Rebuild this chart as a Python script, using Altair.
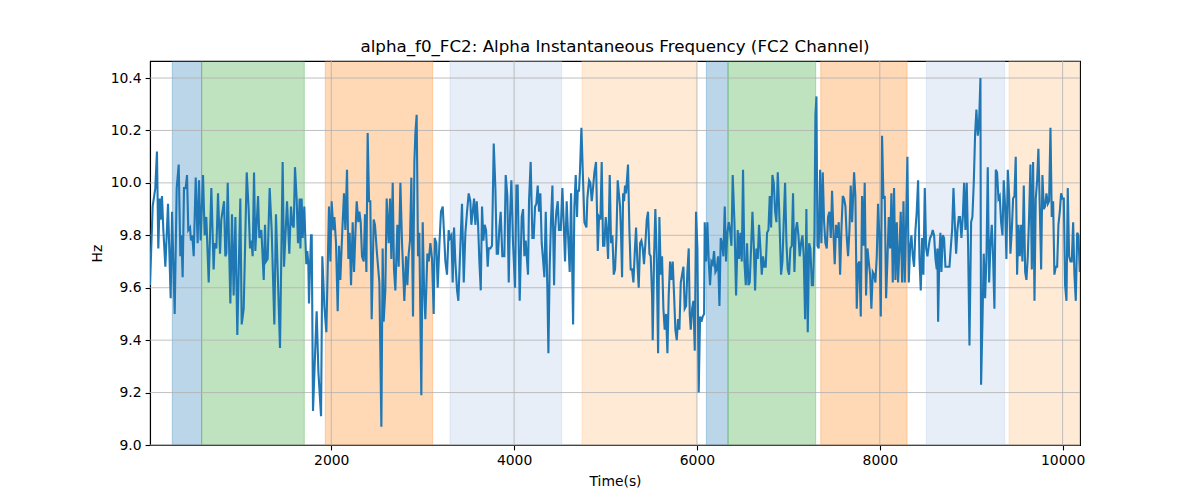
import altair as alt
import pandas as pd

TITLE = "alpha_f0_FC2: Alpha Instantaneous Frequency (FC2 Channel)"
X_MIN, X_MAX = 17, 10190
Y_MIN, Y_MAX = 9.0, 10.465

x_ticks = [2000, 4000, 6000, 8000, 10000]
y_ticks = [9.0, 9.2, 9.4, 9.6, 9.8, 10.0, 10.2, 10.4]

# shaded segments (axvspan-like)
band_start = [261, 582, 1934, 3299, 4743, 6103, 6340, 7354, 8509, 9414]
band_end = [582, 1705, 3109, 4520, 5993, 6340, 7299, 8298, 9367, 10190]
band_color = ["#1f77b4", "#2ca02c", "#ff7f0e", "#aec7e8", "#ffbb78",
              "#1f77b4", "#2ca02c", "#ff7f0e", "#aec7e8", "#ffbb78"]

# signal samples (time, Hz)
seg1 = [(17, 9.61), (46, 9.91), (75, 9.98), (93, 10.12), (108, 9.75), (123, 9.94), (134, 9.86),
        (148, 9.95), (163, 9.82), (185, 9.68), (214, 9.92), (243, 9.56), (258, 9.89), (287, 9.50),
        (309, 9.98), (331, 10.07), (349, 9.72), (360, 9.80), (374, 9.64), (389, 9.98), (407, 9.98),
        (422, 10.03), (436, 9.82), (455, 9.83), (465, 9.78), (480, 9.80), (495, 9.72), (517, 10.02),
        (538, 9.77), (553, 10.01), (571, 9.78), (597, 10.03), (615, 9.80), (633, 9.87), (659, 9.62),
        (688, 9.98), (713, 9.67), (724, 9.77), (743, 9.75), (761, 9.96), (783, 9.73), (797, 9.86),
        (827, 9.93), (841, 9.72), (852, 9.73), (867, 10.00), (896, 9.54), (914, 9.88), (932, 9.57),
        (951, 9.87), (972, 9.42), (1005, 9.94), (1020, 9.46), (1042, 9.52), (1075, 10.04),
        (1096, 9.90), (1111, 9.75), (1126, 9.78), (1140, 9.72), (1155, 10.04), (1169, 9.74),
        (1199, 9.95), (1213, 9.79), (1235, 9.82), (1261, 9.63)]
seg2 = [(1275, 9.84), (1286, 9.70), (1304, 9.71), (1326, 9.98), (1348, 9.82), (1377, 9.46),
        (1395, 9.88), (1439, 9.37), (1468, 10.08), (1483, 9.68), (1516, 9.93), (1541, 9.73),
        (1559, 9.91), (1574, 9.84), (1589, 9.83), (1603, 10.06), (1621, 9.94), (1636, 9.77),
        (1654, 9.94), (1662, 9.75), (1676, 9.94), (1687, 9.79), (1705, 9.91), (1716, 9.79),
        (1727, 9.69), (1738, 9.74), (1749, 9.69), (1756, 9.54), (1778, 9.80), (1786, 9.80),
        (1800, 9.13), (1822, 9.34), (1840, 9.51), (1859, 9.28), (1888, 9.11), (1902, 9.72),
        (1924, 9.53), (1946, 9.43), (1975, 9.91), (1990, 9.70), (2004, 9.93), (2023, 9.82),
        (2034, 9.87), (2052, 9.77), (2070, 9.51), (2085, 9.76), (2099, 9.63), (2121, 9.82),
        (2139, 9.96), (2154, 9.82), (2172, 10.05), (2187, 9.71), (2201, 9.81), (2216, 9.61),
        (2234, 9.85), (2249, 9.66), (2263, 9.80), (2278, 9.93), (2296, 9.85), (2307, 9.89),
        (2322, 9.85), (2336, 9.72), (2355, 9.70), (2369, 9.88), (2384, 9.66), (2398, 10.19),
        (2413, 9.93), (2427, 9.93), (2442, 9.48), (2464, 9.86), (2478, 9.84), (2500, 9.73),
        (2526, 9.62), (2548, 9.07), (2562, 9.75), (2573, 9.47)]
seg3 = [(2591, 9.59), (2606, 9.94), (2628, 9.77), (2643, 9.94), (2657, 9.71), (2672, 10.00),
        (2686, 9.67), (2701, 9.59), (2723, 9.84), (2737, 9.68), (2756, 10.00), (2774, 9.77),
        (2799, 9.55), (2818, 9.72), (2832, 9.61), (2847, 9.73), (2861, 9.78), (2876, 10.02),
        (2894, 9.49), (2909, 10.08), (2920, 10.19), (2934, 10.26), (2949, 9.72), (2963, 9.81),
        (2985, 9.19), (3000, 9.85), (3015, 9.59), (3029, 9.48), (3051, 9.73), (3066, 9.70),
        (3084, 9.77), (3102, 9.71), (3120, 9.50), (3131, 9.79), (3149, 9.77), (3164, 9.60),
        (3182, 9.76), (3200, 9.89), (3219, 9.91), (3233, 9.81), (3248, 9.70), (3266, 9.65),
        (3284, 9.82), (3299, 9.79), (3314, 9.80), (3328, 9.62), (3343, 9.83), (3357, 9.70),
        (3376, 9.59), (3390, 9.55), (3412, 9.76), (3430, 9.92), (3449, 9.62), (3467, 9.81),
        (3485, 9.89), (3503, 9.96), (3521, 9.93), (3532, 9.84), (3547, 9.89), (3562, 9.94),
        (3576, 9.84), (3591, 9.93), (3605, 9.85), (3620, 9.70), (3635, 9.59), (3649, 9.91),
        (3664, 9.78), (3678, 9.84), (3693, 9.82), (3711, 9.68), (3722, 9.75), (3740, 9.75),
        (3758, 9.76), (3777, 10.15), (3795, 9.98), (3810, 9.73), (3824, 9.73), (3839, 9.83),
        (3853, 9.89)]
seg4 = [(3871, 9.72), (3893, 9.72), (3908, 10.03), (3926, 9.95), (3941, 9.62), (3955, 9.87),
        (3970, 10.01), (3988, 9.77), (4010, 9.60), (4025, 9.99), (4039, 9.99), (4061, 9.55),
        (4083, 9.87), (4098, 9.90), (4112, 9.72), (4127, 9.78), (4138, 9.72), (4152, 9.65),
        (4163, 9.93), (4181, 10.08), (4200, 9.79), (4214, 9.79), (4229, 9.91), (4243, 9.92),
        (4258, 9.99), (4273, 9.89), (4287, 9.96), (4302, 9.77), (4316, 9.71), (4331, 9.64),
        (4346, 9.89), (4364, 9.59), (4375, 9.35), (4389, 9.68), (4404, 9.86), (4419, 9.99),
        (4437, 9.61), (4448, 9.82), (4462, 9.89), (4477, 9.93), (4491, 9.82), (4510, 9.82),
        (4528, 9.98), (4543, 9.84), (4557, 9.70), (4575, 9.93), (4594, 9.77), (4608, 9.66),
        (4623, 9.96), (4645, 9.46), (4659, 9.91), (4674, 10.03), (4688, 9.87), (4696, 9.97),
        (4710, 9.97), (4721, 10.05), (4736, 10.21), (4754, 10.01), (4769, 9.85), (4791, 9.83),
        (4801, 9.94), (4820, 10.01), (4834, 10.00), (4849, 9.93), (4863, 9.98), (4878, 10.04),
        (4896, 10.08), (4915, 9.74), (4929, 9.87), (4944, 9.86), (4958, 10.08), (4973, 9.76),
        (4987, 9.76), (5002, 9.87), (5013, 9.82), (5028, 9.71), (5046, 10.03), (5060, 9.77),
        (5075, 9.80), (5090, 9.65), (5104, 9.67), (5119, 9.79), (5133, 10.01)]
seg5 = [(5159, 9.91), (5170, 9.80), (5181, 9.64), (5192, 9.96), (5203, 9.93), (5213, 9.99),
        (5224, 9.96), (5246, 10.07), (5261, 9.82), (5275, 9.67), (5290, 9.67), (5305, 9.62),
        (5319, 9.73), (5334, 9.83), (5348, 9.70), (5363, 9.60), (5378, 9.77), (5392, 9.78),
        (5407, 9.75), (5421, 9.69), (5436, 9.77), (5451, 9.86), (5465, 9.89), (5480, 9.73),
        (5494, 9.72), (5509, 9.57), (5516, 9.40), (5531, 9.72), (5545, 9.90), (5560, 9.71),
        (5575, 9.35), (5589, 9.87), (5604, 9.65), (5618, 9.72), (5633, 9.52), (5647, 9.44),
        (5662, 9.50), (5677, 9.35), (5691, 9.57), (5706, 9.70), (5720, 9.63), (5735, 9.70),
        (5750, 9.57), (5764, 9.44), (5779, 9.40), (5793, 9.48), (5808, 9.44), (5823, 9.62),
        (5837, 9.65), (5852, 9.68), (5866, 9.52), (5881, 9.53), (5895, 9.66), (5910, 9.75),
        (5921, 9.50), (5932, 9.44), (5947, 9.52), (5961, 9.55), (5976, 9.36), (5990, 9.89),
        (6005, 9.75), (6019, 9.20), (6034, 9.49), (6049, 9.47), (6063, 9.49), (6078, 9.50),
        (6085, 9.85), (6100, 9.70), (6114, 9.85), (6129, 9.70), (6143, 9.61), (6158, 9.70),
        (6173, 9.69), (6187, 9.74), (6202, 9.66), (6216, 9.67), (6231, 9.72), (6246, 9.53),
        (6260, 9.79), (6275, 9.77), (6289, 9.72), (6304, 9.91), (6318, 9.70), (6333, 9.81),
        (6348, 9.85), (6362, 9.82), (6377, 9.76), (6391, 10.03)]
seg6 = [(6410, 9.85), (6428, 9.57), (6446, 9.82), (6461, 9.71), (6475, 9.81), (6490, 9.70),
        (6504, 10.05), (6519, 9.70), (6534, 9.61), (6548, 9.77), (6563, 9.61), (6577, 9.62),
        (6592, 9.75), (6607, 9.89), (6621, 9.77), (6636, 9.59), (6650, 9.75), (6665, 9.71),
        (6679, 9.84), (6694, 9.75), (6709, 9.65), (6723, 9.72), (6738, 9.68), (6752, 9.68),
        (6767, 9.81), (6782, 9.82), (6796, 9.95), (6811, 9.83), (6825, 10.03), (6840, 10.00),
        (6855, 9.89), (6869, 9.85), (6884, 10.04), (6898, 9.91), (6920, 9.65), (6935, 9.70),
        (6949, 9.85), (6964, 10.00), (6979, 9.77), (6993, 9.67), (7008, 9.65), (7022, 9.75),
        (7037, 9.76), (7051, 9.96), (7066, 9.66), (7081, 9.82), (7095, 9.85), (7110, 9.80),
        (7124, 9.72), (7139, 9.77), (7154, 9.80), (7168, 9.72), (7183, 9.48), (7197, 9.90),
        (7212, 9.43), (7227, 9.77), (7241, 9.75), (7256, 9.61), (7270, 9.61), (7285, 9.80),
        (7296, 10.26), (7307, 10.33), (7318, 9.76), (7332, 9.75), (7347, 10.05), (7361, 9.77),
        (7376, 10.04), (7391, 9.85), (7405, 9.77), (7420, 9.75), (7434, 9.87), (7449, 9.89),
        (7464, 9.79), (7478, 9.97), (7493, 9.81), (7507, 9.69), (7522, 9.84), (7537, 9.79),
        (7551, 9.85), (7566, 9.65), (7580, 9.82), (7595, 9.95), (7609, 9.94), (7624, 9.91),
        (7639, 9.79), (7653, 9.72), (7668, 9.82), (7682, 9.99), (7697, 9.85)]
seg7 = [(7719, 10.04), (7733, 9.95), (7748, 9.52), (7763, 9.69), (7777, 9.70), (7792, 9.49),
        (7806, 9.95), (7821, 9.76), (7835, 10.00), (7850, 9.57), (7865, 9.75), (7879, 9.70),
        (7894, 9.65), (7908, 9.52), (7923, 9.66), (7938, 9.65), (7952, 9.62), (7967, 9.72),
        (7981, 9.92), (7996, 9.79), (8011, 9.49), (8025, 10.18), (8040, 9.94), (8054, 9.95),
        (8069, 9.56), (8083, 9.70), (8098, 9.87), (8113, 9.75), (8127, 9.96), (8142, 9.62),
        (8156, 9.98), (8171, 9.63), (8186, 9.85), (8200, 9.62), (8215, 9.75), (8229, 9.89),
        (8244, 9.62), (8259, 9.93), (8273, 9.62), (8288, 9.85), (8302, 10.10), (8317, 9.62),
        (8331, 9.75), (8346, 9.80), (8361, 9.72), (8375, 9.68), (8390, 9.82), (8404, 9.89),
        (8419, 10.01), (8434, 9.71), (8448, 9.59), (8463, 9.79), (8477, 9.65), (8492, 9.98),
        (8507, 9.75), (8521, 9.72), (8536, 9.76), (8550, 9.79), (8565, 9.80), (8579, 9.82),
        (8594, 9.80), (8609, 9.71), (8623, 9.67), (8630, 9.75), (8638, 9.47), (8652, 9.73),
        (8663, 9.81), (8674, 9.66), (8689, 9.80), (8703, 9.79), (8718, 9.68), (8733, 9.68),
        (8747, 9.68), (8762, 9.68), (8776, 9.75), (8791, 9.82), (8806, 9.98), (8820, 9.85),
        (8835, 9.73), (8849, 9.82), (8864, 9.87), (8878, 9.87), (8893, 9.79), (8908, 9.87),
        (8922, 10.00), (8937, 9.82), (8951, 10.00), (8966, 9.76), (8981, 9.38)]
seg8 = [(8999, 9.85), (9013, 9.87), (9028, 10.00), (9043, 10.19), (9057, 10.28), (9072, 10.18),
        (9086, 10.23), (9101, 10.40), (9108, 9.23), (9123, 9.47), (9137, 9.73), (9152, 9.56),
        (9167, 9.72), (9181, 10.06), (9196, 9.62), (9210, 9.76), (9225, 9.84), (9239, 9.72),
        (9254, 9.52), (9269, 10.05), (9283, 10.04), (9298, 9.94), (9312, 9.95), (9327, 9.85),
        (9342, 9.80), (9356, 10.01), (9371, 9.91), (9385, 9.71), (9400, 10.05), (9415, 9.95),
        (9429, 9.73), (9444, 9.82), (9458, 9.94), (9473, 9.95), (9487, 10.10), (9502, 9.65),
        (9517, 9.84), (9531, 9.72), (9546, 9.84), (9560, 9.70), (9575, 9.99), (9590, 9.66),
        (9604, 9.63), (9619, 9.72), (9633, 9.87), (9648, 10.07), (9663, 9.67), (9677, 10.08),
        (9692, 9.55), (9706, 9.94), (9721, 10.01), (9735, 10.13), (9750, 9.91), (9765, 9.67),
        (9779, 10.03), (9794, 9.90), (9808, 9.91), (9823, 9.96), (9838, 9.92), (9852, 9.93),
        (9867, 10.21), (9881, 9.87), (9896, 9.93), (9910, 9.65), (9925, 9.68), (9940, 9.68),
        (9954, 9.84), (9969, 9.89), (9983, 9.96), (9998, 9.94), (10013, 9.94), (10027, 9.61),
        (10042, 9.55), (10056, 9.98), (10071, 9.72), (10086, 9.70), (10100, 9.70), (10115, 9.85),
        (10129, 9.65), (10144, 9.55), (10159, 9.81), (10173, 9.80), (10188, 9.66)]

signal = pd.DataFrame(seg1 + seg2 + seg3 + seg4 + seg5 + seg6 + seg7 + seg8,
                      columns=["t", "hz"])
bands = pd.DataFrame({"start": band_start, "end": band_end, "color": band_color,
                      "lo": Y_MIN, "hi": Y_MAX})
xgrid = pd.DataFrame({"v": x_ticks})
ygrid = pd.DataFrame({"v": y_ticks})

xs = alt.Scale(domain=[X_MIN, X_MAX], nice=False, zero=False)
ys = alt.Scale(domain=[Y_MIN, Y_MAX], nice=False, zero=False)
x_axis = alt.Axis(title="Time(s)", values=x_ticks, format="d", grid=False)
y_axis = alt.Axis(title="Hz", values=y_ticks, format=".1f", grid=False)

band_layer = alt.Chart(bands).mark_rect(
    fillOpacity=0.3, strokeOpacity=0.3, strokeWidth=1, clip=True
).encode(
    x=alt.X("start:Q", scale=xs, axis=x_axis),
    x2="end:Q",
    y=alt.Y("lo:Q", scale=ys, axis=y_axis),
    y2="hi:Q",
    fill=alt.Fill("color:N", scale=None),
    stroke=alt.Stroke("color:N", scale=None),
)

ygrid_layer = alt.Chart(ygrid).mark_rule(color="#b0b0b0", strokeWidth=0.8).encode(
    y=alt.Y("v:Q", scale=ys, axis=y_axis)
)
xgrid_layer = alt.Chart(xgrid).mark_rule(color="#b0b0b0", strokeWidth=0.8).encode(
    x=alt.X("v:Q", scale=xs, axis=x_axis)
)

line_layer = alt.Chart(signal).mark_line(color="#1f77b4", strokeWidth=2.1, clip=True).encode(
    x=alt.X("t:Q", scale=xs, axis=x_axis),
    y=alt.Y("hz:Q", scale=ys, axis=y_axis),
)

chart = alt.layer(band_layer, ygrid_layer, xgrid_layer, line_layer).properties(
    width=930,
    height=384,
    title=alt.TitleParams(TITLE, fontSize=16.7, fontWeight="normal", font="DejaVu Sans",
                          anchor="middle", offset=5, color="black"),
    autosize=alt.AutoSizeParams(type="none"),
    padding={"left": 142, "top": 53, "right": 20, "bottom": 55},
).configure_view(
    stroke="black", strokeWidth=1.1
).configure_axis(
    labelFont="DejaVu Sans", titleFont="DejaVu Sans",
    labelFontSize=13.9, titleFontSize=13.9, titleFontWeight="normal",
    labelColor="black", titleColor="black",
    domainColor="black", domainWidth=1.1,
    tickColor="black", tickWidth=1.1, tickSize=4.9, labelPadding=4,
).configure_axisX(titlePadding=7).configure_axisY(titlePadding=6)

chart.save("out.html", embed_options={"renderer": "svg", "actions": False})
